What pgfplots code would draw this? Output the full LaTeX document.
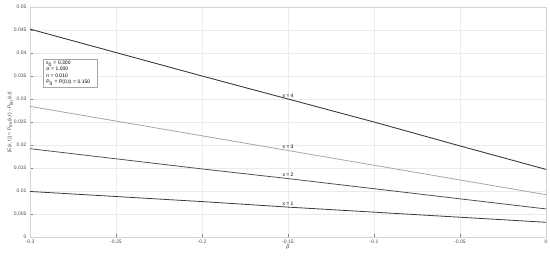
\documentclass[border=0pt]{standalone}
\usepackage{pgfplots}
\pgfplotsset{compat=1.18}
\usepackage{fontspec}
\setmainfont{Liberation Sans}
\definecolor{gridc}{HTML}{EBEBEB}
\definecolor{axc}{HTML}{D4D4D4}
\definecolor{tickc}{HTML}{4A4A4A}
\definecolor{darkl}{HTML}{3C3C3C}
\definecolor{lightl}{HTML}{A6A6A6}
\begin{document}
\begin{tikzpicture}
\begin{axis}[
    scale only axis,
    width=516pt, height=230pt,
    xmin=-0.3, xmax=0,
    ymin=0, ymax=0.05,
    xtick={-0.3,-0.25,-0.2,-0.15,-0.1,-0.05,0},
    ytick={0,0.005,0.01,0.015,0.02,0.025,0.03,0.035,0.04,0.045,0.05},
    xticklabels={-0.3,-0.25,-0.2,-0.15,-0.1,-0.05,0},
    yticklabels={0,0.005,0.01,0.015,0.02,0.025,0.03,0.035,0.04,0.045,0.05},
    /pgf/number format/assume math mode=true,
    grid=major,
    grid style={gridc, line width=0.6pt},
    axis line style={axc, line width=0.6pt},
    tick align=inside,
    major tick length=3pt,
    tick style={tickc!70, line width=0.4pt},
    tick pos=left,
    tick label style={font=\fontsize{5}{6}\selectfont, text=tickc},
    xticklabel style={yshift=1pt},
    xlabel={\itshape β},
    xlabel style={font=\fontsize{5.5}{6}\selectfont, text=tickc, yshift=5pt},
    ylabel={|E(x, t)| = P\textsubscript{ex}(x,t) - P\textsubscript{lin}(x,t)},
    ylabel style={font=\fontsize{5}{6}\selectfont, text=tickc, yshift=-6pt},
    clip=false,
]
\addplot[darkl, line width=0.9pt] coordinates {
    (-0.3,0.0452) (-0.25,0.0401) (-0.2,0.0350) (-0.15,0.0300) (-0.1,0.0250) (-0.05,0.0198) (0,0.0147)
};
\addplot[lightl, line width=0.8pt] coordinates {
    (-0.3,0.0284) (-0.25,0.0252) (-0.2,0.0220) (-0.15,0.0188) (-0.1,0.0156) (-0.05,0.0124) (0,0.0092)
};
\addplot[darkl!90, line width=0.8pt] coordinates {
    (-0.3,0.0192) (-0.25,0.0170) (-0.2,0.0148) (-0.15,0.0127) (-0.1,0.0105) (-0.05,0.0083) (0,0.0061)
};
\addplot[darkl, line width=0.8pt] coordinates {
    (-0.3,0.0099) (-0.25,0.0088) (-0.2,0.0077) (-0.15,0.0065) (-0.1,0.0054) (-0.05,0.0043) (0,0.0032)
};
\node[above, inner sep=1.5pt, font=\fontsize{5}{6}\selectfont] at (axis cs:-0.15,0.0300) {x = 4};
\node[above, inner sep=1.5pt, font=\fontsize{5}{6}\selectfont] at (axis cs:-0.15,0.0188) {x = 3};
\node[above, inner sep=1.5pt, font=\fontsize{5}{6}\selectfont] at (axis cs:-0.15,0.0127) {x = 2};
\node[above, inner sep=1.5pt, font=\fontsize{5}{6}\selectfont] at (axis cs:-0.15,0.0065) {x = 1};
\node[anchor=north west, draw=lightl, line width=0.4pt, fill=white, align=left,
      font=\fontsize{5}{6.3}\selectfont, inner xsep=3pt, inner ysep=2pt, text width=48pt]
  at (axis cs:-0.2924,0.0387)
  {ε\textsubscript{0} = 0.300\\ σ = 1.000\\ n = 0.010\\ P\textsubscript{0} = P(0,t) = 0.150};
\end{axis}
\pgfresetboundingbox
\path (current axis.south west) ++(-30pt,-20pt) rectangle ([xshift=4pt,yshift=7pt]current axis.north east);
\end{tikzpicture}
\end{document}
